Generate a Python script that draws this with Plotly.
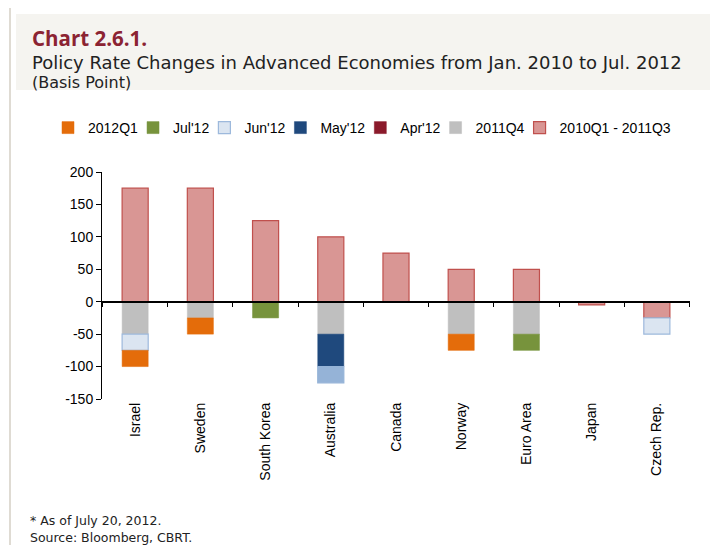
import plotly.graph_objects as go

# Data (basis points)
countries = ["Israel", "Sweden", "South Korea", "Australia", "Canada",
             "Norway", "Euro Area", "Japan", "Czech Rep."]
q2010_2011q3 = [175, 175, 125, 100, 75, 50, 50, -5, -25]
q2011q4 = [-50, -25, None, -50, None, -50, -50, None, None]
may12 = [None, None, None, -50, None, None, None, None, None]
jun12 = [-25, None, None, -25, None, None, None, None, -25]
jul12 = [None, None, -25, None, None, None, -25, None, None]
q2012q1 = [-25, -25, None, None, None, -25, None, None, None]
apr12 = [None] * 9

y_ticks = [-150, -100, -50, 0, 50, 100, 150, 200]

jun_fill = ["#95B3D7" if c == "Australia" else "#DBE5F1" for c in countries]
jun_line = ["#95B3D7" if c == "Australia" else "#9DB9DC" for c in countries]

fig = go.Figure()
# trace order controls stacking; legendrank controls legend order
fig.add_bar(x=countries, y=q2010_2011q3, name="2010Q1 - 2011Q3", legendrank=7,
            marker=dict(color="#D99694", line=dict(color="#C0504D", width=1.2)))
fig.add_bar(x=countries, y=q2011q4, name="2011Q4", legendrank=6,
            marker=dict(color="#BFBFBF", line=dict(color="#BFBFBF", width=0.5)))
fig.add_bar(x=countries, y=may12, name="May'12", legendrank=4,
            marker=dict(color="#1F497D", line=dict(color="#1F497D", width=0.5)))
fig.add_bar(x=countries, y=jun12, name="Jun'12", legendrank=3,
            marker=dict(color=jun_fill, line=dict(color=jun_line, width=1.2)))
fig.add_bar(x=countries, y=jul12, name="Jul'12", legendrank=2,
            marker=dict(color="#77933C", line=dict(color="#77933C", width=0.5)))
fig.add_bar(x=countries, y=q2012q1, name="2012Q1", legendrank=1,
            marker=dict(color="#E46C0A", line=dict(color="#E46C0A", width=0.5)))
fig.add_bar(x=countries, y=apr12, name="Apr'12", legendrank=5,
            marker=dict(color="#8B1A2B", line=dict(color="#8B1A2B", width=0.5)))

ymin, ymax = y_ticks[0], y_ticks[-1]

# invisible trace on a second x-axis to draw the category axis at zero
fig.add_scatter(x=countries, y=[0] * len(countries), xaxis="x2", mode="markers",
                marker=dict(opacity=0), showlegend=False, hoverinfo="skip")

# page layout in page pixels (the html body adds an 8px offset)
OFF = 8
PL, PT, PW, PH = 102, 172, 588, 227   # plot area left/top/width/height on the page


def px(x):
    return (x - PL) / PW


def py(y):
    return (PT + PH - y) / PH


title_font = "DejaVu Sans, sans-serif"

fig.update_layout(
    width=718, height=545,
    barmode="relative", bargap=0.6,
    paper_bgcolor="white", plot_bgcolor="white",
    margin=dict(l=PL - OFF, t=PT - OFF, r=718 - (PL - OFF) - PW,
                b=545 - (PT - OFF) - PH, autoexpand=False),
    font=dict(family="Liberation Sans, Arial, sans-serif", size=14, color="black"),
    showlegend=True,
    legend=dict(orientation="h", x=px(58), xanchor="left", y=py(128),
                yanchor="middle", font=dict(size=14), itemwidth=30, indentation=-10,
                traceorder="normal", tracegroupgap=0, bgcolor="rgba(0,0,0,0)"),
    xaxis=dict(showline=False, ticks="", tickangle=-90, showgrid=False,
               tickfont=dict(size=14)),
    xaxis2=dict(overlaying="x", anchor="free",
                position=(0 - ymin) / (ymax - ymin),
                showline=True, linecolor="black", linewidth=1.5,
                ticks="outside", tickson="boundaries", ticklen=5, tickcolor="black",
                showticklabels=False, showgrid=False, matches="x"),
    yaxis=dict(range=[ymin, ymax], tickvals=y_ticks, ticktext=[str(v) for v in y_ticks],
               showline=True, linecolor="black", linewidth=1, ticks="outside",
               ticklen=5, tickcolor="black", showgrid=False, zeroline=False,
               tickfont=dict(size=14)),
    shapes=[
        dict(type="rect", xref="paper", yref="paper", x0=px(16), x1=px(730),
             y0=py(90), y1=py(14),
             fillcolor="#F5F4F0", line=dict(width=0), layer="below"),
        dict(type="line", xref="paper", yref="paper", x0=px(10), x1=px(730),
             y0=py(7), y1=py(7), line=dict(color="#D5CFC4", width=1.5)),
        dict(type="line", xref="paper", yref="paper", x0=px(10), x1=px(10),
             y0=py(560), y1=py(7), line=dict(color="#D5CFC4", width=1.5)),
    ],
    annotations=[
        dict(text="<b>Chart 2.6.1.</b>", xref="paper", yref="paper",
             x=px(30), y=py(38), xanchor="left", yanchor="middle",
             showarrow=False,
             font=dict(family="Open Sans, sans-serif", size=20.5, color="#8B2332")),
        dict(text="Policy Rate Changes in Advanced Economies from Jan. 2010 to Jul. 2012",
             xref="paper", yref="paper", x=px(30), y=py(62),
             xanchor="left", yanchor="middle", showarrow=False,
             font=dict(family=title_font, size=18, color="#222222")),
        dict(text="(Basis Point)", xref="paper", yref="paper",
             x=px(30), y=py(82), xanchor="left", yanchor="middle",
             showarrow=False, font=dict(family=title_font, size=16, color="#222222")),
        dict(text="* As of July 20, 2012.", xref="paper", yref="paper",
             x=px(28), y=py(520), xanchor="left", yanchor="middle",
             showarrow=False, font=dict(family=title_font, size=12.5, color="#222222")),
        dict(text="Source: Bloomberg, CBRT.", xref="paper", yref="paper",
             x=px(28), y=py(537), xanchor="left", yanchor="middle",
             showarrow=False, font=dict(family=title_font, size=12.5, color="#222222")),
    ],
)

fig.write_html("out.html")
